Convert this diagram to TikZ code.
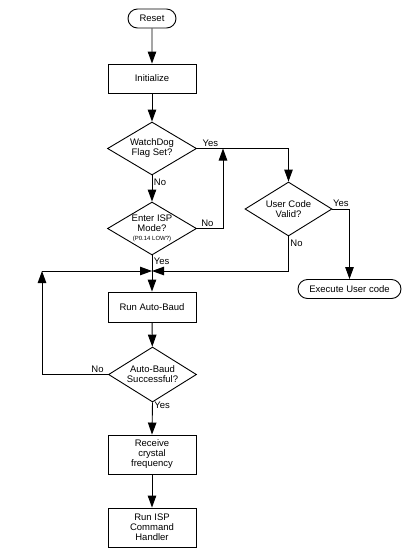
\documentclass[tikz,border=0pt]{standalone}
\usepackage{fontspec}
\setmainfont{Liberation Sans}
\usetikzlibrary{shapes.geometric,shapes.misc,arrows.meta}
\begin{document}
\begin{tikzpicture}[x=1pt,y=-1pt,line width=0.9pt,
  >={Triangle[length=12pt,width=8.5pt]},
  txt/.style={font=\fontsize{9.5}{10}\selectfont},
  box/.style={txt,draw,rectangle,minimum width=88pt,minimum height=29pt,inner sep=1pt,align=center},
  decide/.style={txt,draw,diamond,shape aspect=1.65,inner sep=0pt,minimum width=89pt,minimum height=53pt,align=center},
  term/.style={txt,draw,rounded rectangle,minimum height=19pt,inner sep=1pt},
  lbl/.style={txt,inner sep=1.5pt}]
\useasboundingbox (0,0) rectangle (415,558);

\node[term,minimum width=50pt] (reset) at (152,18.5) {Reset};
\node[box] (init) at (152,78.5) {Initialize};
\node[decide] (wd) at (152,148.5) {WatchDog\\Flag Set?};
\node[decide] (isp) at (152,228.5) {Enter ISP\\Mode?\\[-1pt]{\fontsize{6}{6}\selectfont (P0.14 LOW?)}};
\node[decide,minimum width=87pt,minimum height=54pt] (uc) at (288.5,209) {User Code\\Valid?};
\node[term,minimum width=105pt] (exec) at (349.5,289) {Execute User code};
\node[box,minimum height=30pt] (run) at (152,307) {Run Auto-Baud};
\node[decide,minimum width=88pt,minimum height=55pt] (ab) at (152.5,374.5) {Auto-Baud\\Successful?};
\node[box,minimum height=39pt] (rcv) at (152,454.5) {Receive\\crystal\\frequency};
\node[box,minimum height=39pt] (cmd) at (152,527.5) {Run ISP\\Command\\Handler};

\coordinate (j) at (152,271);
\coordinate (nb) at (223,148.5);
\coordinate (lc) at (42,271);

\draw[->] (reset) -- (init);
\draw[->] (init) -- (wd);
\draw[->] (wd.south) -- node[lbl,pos=0.25,anchor=west] {No} (isp.north);
\draw[->] (wd.east) -| node[lbl,pos=0.02,anchor=south west] {Yes} (uc.north);
\draw[->] (isp.east) -| node[lbl,pos=0.2,anchor=south] {No} (nb);
\draw[->] (isp.south) -- node[lbl,pos=0.16,anchor=west] {Yes} (run.north);
\draw[->] (uc.east) -| node[lbl,pos=0.25,anchor=south] {Yes} (exec.north);
\draw[->] (uc.south) |- node[lbl,pos=0.02,anchor=north west] {No} (j);
\draw[->] (run) -- (ab);
\draw[->] (ab.west) -| node[lbl,pos=0.08,anchor=south] {No} (lc);
\draw[->] (lc) -- (j);
\draw[->] (ab.south) -- node[lbl,pos=0.08,anchor=west] {Yes} (rcv.north);
\draw[->] (rcv) -- (cmd);
\end{tikzpicture}
\end{document}
